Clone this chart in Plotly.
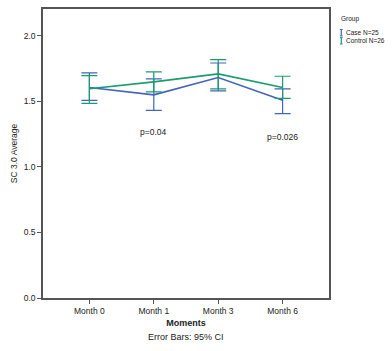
import plotly.graph_objects as go

moments = ["Month 0", "Month 1", "Month 3", "Month 6"]

case_mean = [1.606, 1.550, 1.682, 1.508]
case_lower = [1.508, 1.432, 1.581, 1.407]
case_upper = [1.717, 1.672, 1.793, 1.596]

control_mean = [1.596, 1.649, 1.710, 1.606]
control_lower = [1.485, 1.573, 1.596, 1.523]
control_upper = [1.697, 1.725, 1.818, 1.692]

y_ticks = [0.0, 0.5, 1.0, 1.5, 2.0]
p_labels = ["p=0.04", "p=0.026"]
p_x = ["Month 1", "Month 6"]
p_y = [1.265, 1.23]

BLUE = "#4264bd"
GREEN = "#189e6c"
FONT = "Liberation Sans, Arial, sans-serif"

def err(mean, lo, hi):
    return dict(type="data", symmetric=False,
                array=[h - m for m, h in zip(mean, hi)],
                arrayminus=[m - l for m, l in zip(mean, lo)])

fig = go.Figure()
e1 = err(case_mean, case_lower, case_upper)
e1.update(color=BLUE, thickness=1.2, width=8)
fig.add_trace(go.Scatter(x=moments, y=case_mean, mode="lines", name="Case N=25",
                         line=dict(color=BLUE, width=1.6), error_y=e1))
e2 = err(control_mean, control_lower, control_upper)
e2.update(color=GREEN, thickness=1.2, width=8)
fig.add_trace(go.Scatter(x=moments, y=control_mean, mode="lines", name="Control N=26",
                         line=dict(color=GREEN, width=1.6), error_y=e2))

for t, xx, yy in zip(p_labels, p_x, p_y):
    fig.add_annotation(x=xx, y=yy, text=t, showarrow=False,
                       font=dict(size=8.5, color="#222", family=FONT))

fig.add_annotation(xref="paper", yref="paper", x=0.5, y=-0.134, yanchor="middle",
                   text="Error Bars: 95% CI", showarrow=False,
                   font=dict(size=9, color="#222", family=FONT))

# legend (manual)
fig.add_annotation(xref="paper", yref="paper", x=1.035, y=0.965, xanchor="left", yanchor="middle",
                   text="Group", showarrow=False, font=dict(size=6.5, color="#222", family=FONT))
leg = [("Case N=25", BLUE, 0.918), ("Control N=26", GREEN, 0.890)]
for name, col, yy in leg:
    fig.add_annotation(xref="paper", yref="paper", x=1.052, y=yy, xanchor="left", yanchor="middle",
                       text=name, showarrow=False, font=dict(size=6.5, color="#222", family=FONT))
    x0 = 1.043
    h = 0.011
    dx = 0.005
    fig.add_shape(type="line", xref="paper", yref="paper", x0=x0, x1=x0, y0=yy - h, y1=yy + h,
                  line=dict(color=col, width=1.2))
    for yc in (yy - h, yy + h):
        fig.add_shape(type="line", xref="paper", yref="paper", x0=x0 - dx, x1=x0 + dx, y0=yc, y1=yc,
                      line=dict(color=col, width=1))

fig.update_layout(
    width=392, height=351,
    margin=dict(l=43, r=63, t=7, b=53),
    paper_bgcolor="white", plot_bgcolor="white",
    showlegend=False,
    font=dict(family=FONT, color="#222"),
)
fig.update_xaxes(type="category", range=[-0.72, 3.72], showgrid=False, zeroline=False,
                 showline=True, linecolor="#555", linewidth=1.5, mirror=True,
                 ticks="outside", ticklen=4, tickcolor="#555",
                 tickfont=dict(size=8.5, family=FONT),
                 title=dict(text="<b>Moments</b>", font=dict(size=9, family=FONT), standoff=5))
fig.update_yaxes(range=[0, 2.205], tickvals=y_ticks, tickformat=".1f", showgrid=False, zeroline=False,
                 showline=True, linecolor="#555", linewidth=1.5, mirror=True,
                 ticks="outside", ticklen=4, tickcolor="#555",
                 tickfont=dict(size=8.5, family=FONT),
                 title=dict(text="SC 3.0 Average", font=dict(size=8.5, family=FONT), standoff=5))

fig.write_html("out.html")
